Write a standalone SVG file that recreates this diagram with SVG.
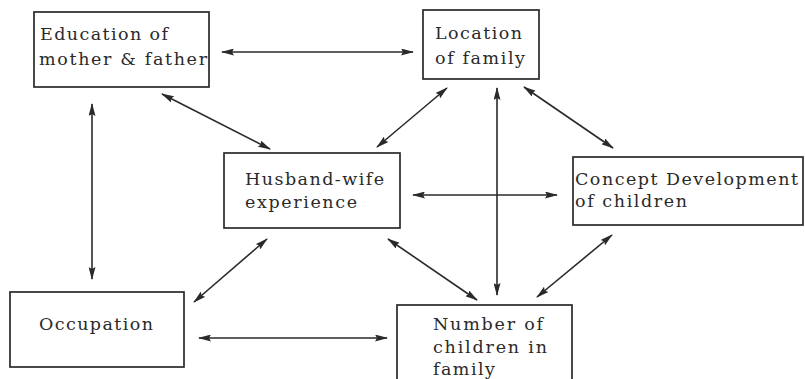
<svg xmlns="http://www.w3.org/2000/svg" width="805" height="379" viewBox="0 0 805 379">
<style>
.box{fill:none;stroke:#2a2a2a;stroke-width:1.7}
.t{font-family:"DejaVu Serif","Liberation Serif",serif;font-size:17.5px;fill:#2a2a2a}
.c{stroke:#2a2a2a;stroke-width:1.6;fill:none;marker-start:url(#ah);marker-end:url(#ah)}
</style>
<defs>
<marker id="ah" viewBox="0 0 13 7" refX="12" refY="3.5" markerWidth="13" markerHeight="7" markerUnits="userSpaceOnUse" orient="auto-start-reverse">
<path d="M0,0 L13,3.5 L0,7 L2,3.5 Z" fill="#2a2a2a"/>
</marker>
</defs>
<rect width="805" height="379" fill="#ffffff"/>
<g id="education">
<rect class="box" x="34" y="12" width="175" height="75"/>
<text class="t" x="40" y="40" textLength="128" lengthAdjust="spacing">Education of</text>
<text class="t" x="39" y="65" textLength="168" lengthAdjust="spacing">mother &amp; father</text>
</g>
<g id="location">
<rect class="box" x="423" y="10" width="116" height="69"/>
<text class="t" x="435" y="39" textLength="87" lengthAdjust="spacing">Location</text>
<text class="t" x="435" y="64" textLength="90" lengthAdjust="spacing">of family</text>
</g>
<g id="husband">
<rect class="box" x="224" y="153" width="176" height="75"/>
<text class="t" x="245" y="185" textLength="139" lengthAdjust="spacing">Husband-wife</text>
<text class="t" x="245" y="208" textLength="112" lengthAdjust="spacing">experience</text>
</g>
<g id="concept">
<rect class="box" x="573" y="157" width="230" height="68"/>
<text class="t" x="575" y="185" textLength="223" lengthAdjust="spacing">Concept Development</text>
<text class="t" x="575" y="207" textLength="112" lengthAdjust="spacing">of children</text>
</g>
<g id="occupation">
<rect class="box" x="10" y="292" width="174" height="75"/>
<text class="t" x="39" y="330" textLength="114" lengthAdjust="spacing">Occupation</text>
</g>
<g id="number">
<rect class="box" x="397" y="305" width="175" height="80"/>
<text class="t" x="433" y="330" textLength="110" lengthAdjust="spacing">Number of</text>
<text class="t" x="433" y="353" textLength="114" lengthAdjust="spacing">children in</text>
<text class="t" x="433" y="375" textLength="62" lengthAdjust="spacing">family</text>
</g>
<g id="connectors">
<line class="c" x1="222" y1="52" x2="413" y2="52"/>
<line class="c" x1="162" y1="94" x2="270" y2="149"/>
<line class="c" x1="92" y1="104" x2="92" y2="279"/>
<line class="c" x1="447" y1="88" x2="377" y2="147"/>
<line class="c" x1="497" y1="88" x2="497" y2="295"/>
<line class="c" x1="524" y1="87" x2="613" y2="148"/>
<line class="c" x1="413" y1="195" x2="557" y2="195"/>
<line class="c" x1="267" y1="239" x2="194" y2="302"/>
<line class="c" x1="388" y1="239" x2="477" y2="300"/>
<line class="c" x1="612" y1="235" x2="537" y2="297"/>
<line class="c" x1="199" y1="338" x2="387" y2="338"/>
</g>
</svg>
